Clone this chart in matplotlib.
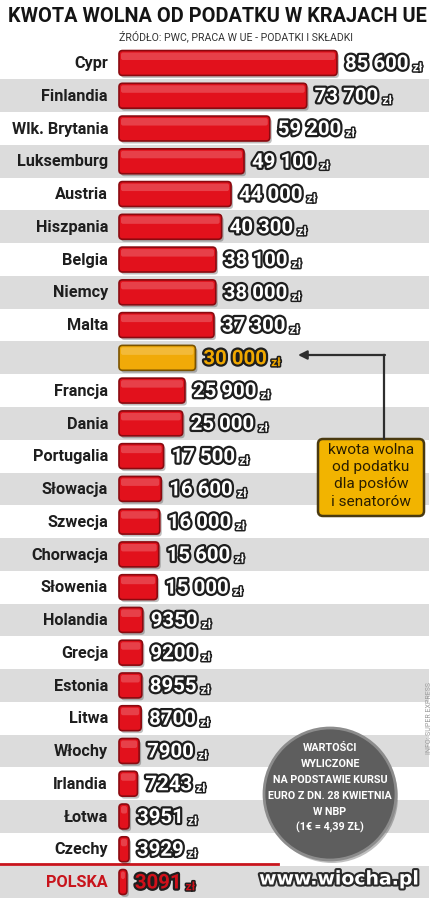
import matplotlib
matplotlib.use("Agg")
import matplotlib.pyplot as plt
import matplotlib.patheffects as pe
from matplotlib.patches import FancyBboxPatch, Circle

# data (zł per year)
countries = ["Cypr", "Finlandia", "Wlk. Brytania", "Luksemburg", "Austria", "Hiszpania",
             "Belgia", "Niemcy", "Malta", "", "Francja", "Dania", "Portugalia", "Słowacja",
             "Szwecja", "Chorwacja", "Słowenia", "Holandia", "Grecja", "Estonia", "Litwa",
             "Włochy", "Irlandia", "Łotwa", "Czechy", "POLSKA"]
amounts = [85600, 73700, 59200, 49100, 44000, 40300, 38100, 38000, 37300, 30000,
           25900, 25000, 17500, 16600, 16000, 15600, 15000, 9350, 9200, 8955, 8700,
           7900, 7243, 3951, 3929, 3091]
kinds = ["eu"] * 9 + ["mp"] + ["eu"] * 15 + ["pl"]

title = "KWOTA WOLNA OD PODATKU W KRAJACH UE"
source = "ŹRÓDŁO: PWC, PRACA W UE - PODATKI I SKŁADKI"
box_lines = ["kwota wolna", "od podatku", "dla posłów", "i senatorów"]
circle_lines = ["WARTOŚCI", "WYLICZONE", "NA PODSTAWIE KURSU", "EURO Z DN. 28 KWIETNIA",
                "W NBP", "(1€ = 4,39 ZŁ)"]

FONT = ["Roboto", "DejaVu Sans"]

W, H = 436, 900
X0 = 119                 # pixel where zero sits
UX = 85600 / 218.0       # value units per pixel
PITCH = 32.76            # pixels per row
Y0 = 63                  # first row centre

fig = plt.figure(figsize=(W / 100, H / 100), dpi=100, facecolor="white")
renderer = fig.canvas.get_renderer()


def fit(t, width):
    # scale a text so that it is `width` pixels wide
    bb = t.get_window_extent(renderer)
    t.set_fontsize(t.get_fontsize() * width / bb.width)
    return t.get_fontsize()


ax = fig.add_axes([0, 0, 1, 1])
ax.set_xlim(-X0 * UX, (W - X0) * UX)
ax.set_ylim((H - Y0) / PITCH, -Y0 / PITCH)
ax.axis("off")

rows = list(range(len(countries)))
MA = (1 / PITCH) / UX   # y units per x unit for the rounded corners

# stripes
for r in rows:
    if r % 2 == 1:
        ax.axhspan(r - 0.5, r + 0.5, xmin=0, xmax=429 / W, color="#dcdcdc", lw=0, zorder=0)

ax.axhline(24.45, xmin=0, xmax=278 / W, color="#c8141c", lw=2, zorder=1)

fills = {"eu": ("#e2111c", "#8a0a10"), "pl": ("#e2111c", "#8a0a10"), "mp": ("#f1aa08", "#7a5200")}

bars = ax.barh(rows, amounts, height=0.76)
for rect, kind in zip(bars, kinds):
    rect.set_visible(False)
    x, y, w, h = rect.get_x(), rect.get_y(), rect.get_width(), rect.get_height()
    rs = min(3.5 * UX, w / 2)
    fc, ec = fills[kind]
    shadow = FancyBboxPatch((x + 2 * UX, y + 2.5 / PITCH), w, h,
                            boxstyle=f"round,pad=0,rounding_size={rs}", mutation_aspect=MA,
                            fc="#000000", ec="none", alpha=0.25, zorder=2)
    ax.add_patch(shadow)
    body = FancyBboxPatch((x, y), w, h, boxstyle=f"round,pad=0,rounding_size={rs}",
                          mutation_aspect=MA, fc=fc, ec=ec, lw=1.2, zorder=3)
    ax.add_patch(body)
    gloss = FancyBboxPatch((x + 2 * UX, y + 2 / PITCH), max(w - 4 * UX, UX), h * 0.3,
                           boxstyle=f"round,pad=0,rounding_size={min(2 * UX, w / 3)}",
                           mutation_aspect=MA, fc="white", ec="none", alpha=0.2, zorder=4)
    ax.add_patch(gloss)

# country names
name_texts = []
for r, name, kind in zip(rows, countries, kinds):
    t = ax.text(-11 * UX, r + 0.02, name, ha="right", va="center", fontsize=12,
                fontweight="bold", family=FONT,
                color="#c8141c" if kind == "pl" else "#1e1e1e")
    name_texts.append(t)
size = fit(name_texts[2], 96)
for t in name_texts:
    t.set_fontsize(size)

# values
num_col = {"eu": "white", "pl": "#d0101a", "mp": "#f0a800"}
nums = []
for r, v, kind in zip(rows, amounts, kinds):
    txt = f"{v:,}".replace(",", " ") if v >= 10000 else str(v)
    t = ax.text(v + 8 * UX, r + 0.03, txt, ha="left", va="center", fontsize=16,
                fontweight="bold", family=FONT, color=num_col[kind], zorder=6,
                path_effects=[pe.withStroke(linewidth=3.2, foreground="#1e1e1e")])
    nums.append((t, kind))
size = fit(nums[0][0], 63)
for t, _ in nums:
    t.set_fontsize(size)

for t, kind in nums:
    bb = t.get_window_extent(renderer)
    ax.annotate("zł", xy=(bb.x1 + 4, bb.y0 + 0.3 * bb.height), xycoords="figure pixels",
                ha="left", va="center", fontsize=8.5, fontweight="bold", family=FONT,
                color=num_col[kind], zorder=6,
                path_effects=[pe.withStroke(linewidth=2.2, foreground="#1e1e1e")])

# decorations in pixel coordinates
ov = fig.add_axes([0, 0, 1, 1])
ov.set_xlim(0, W)
ov.set_ylim(H, 0)
ov.axis("off")
ov.patch.set_alpha(0)

t = ov.text(217, 17, title, ha="center", va="center", fontsize=16, fontweight="bold",
            family=FONT, color="#141414")
fit(t, 419)
t = ov.text(236, 36, source, ha="center", va="center", fontsize=7, family=FONT,
            color="#333333")
fit(t, 235)

# arrow + yellow box
ov.plot([384, 384], [355, 439], color="#2e2e2e", lw=1.6)
ov.annotate("", xy=(298, 355), xytext=(385, 355),
            arrowprops=dict(arrowstyle="-|>", color="#2e2e2e", lw=1.6, mutation_scale=13,
                            shrinkA=0, shrinkB=0))
ov.add_patch(FancyBboxPatch((318, 439), 106, 77, boxstyle="round,pad=0,rounding_size=5",
                            fc="#f2b400", ec="#4a3a10", lw=1.8))
box_y = [450, 467, 484, 502]
bt = [ov.text(371, y, s, ha="center", va="center", fontsize=10, family=FONT,
              color="#2a1e00") for s, y in zip(box_lines, box_y)]
size = fit(bt[0], 86)
for t in bt:
    t.set_fontsize(size)

# grey circle note
ov.add_patch(Circle((332, 797), 66, fc="#000000", ec="none", alpha=0.25))
ov.add_patch(Circle((330, 794), 66, fc="#5e5e5e", ec="#8c8c8c", lw=2))
circ_y = [748, 764, 780, 796, 812, 827]
ct = [ov.text(330, y, s, ha="center", va="center", fontsize=7, fontweight="bold",
              family=FONT, color="white") for s, y in zip(circle_lines, circ_y)]
size = fit(ct[3], 124)
for t in ct:
    t.set_fontsize(size)

t = ov.text(339, 879, "www.wiocha.pl", ha="center", va="center", fontsize=14,
            fontweight="bold", family="DejaVu Sans", color="white",
            path_effects=[pe.withStroke(linewidth=3, foreground="#2a2a2a")])
fit(t, 160)

ov.text(429, 718, "INFO: SUPER EXPRESS", rotation=90, ha="center", va="center",
        fontsize=5, family=FONT, color="#9a9a9a")

fig.savefig("out.png", dpi=100, facecolor="white")
